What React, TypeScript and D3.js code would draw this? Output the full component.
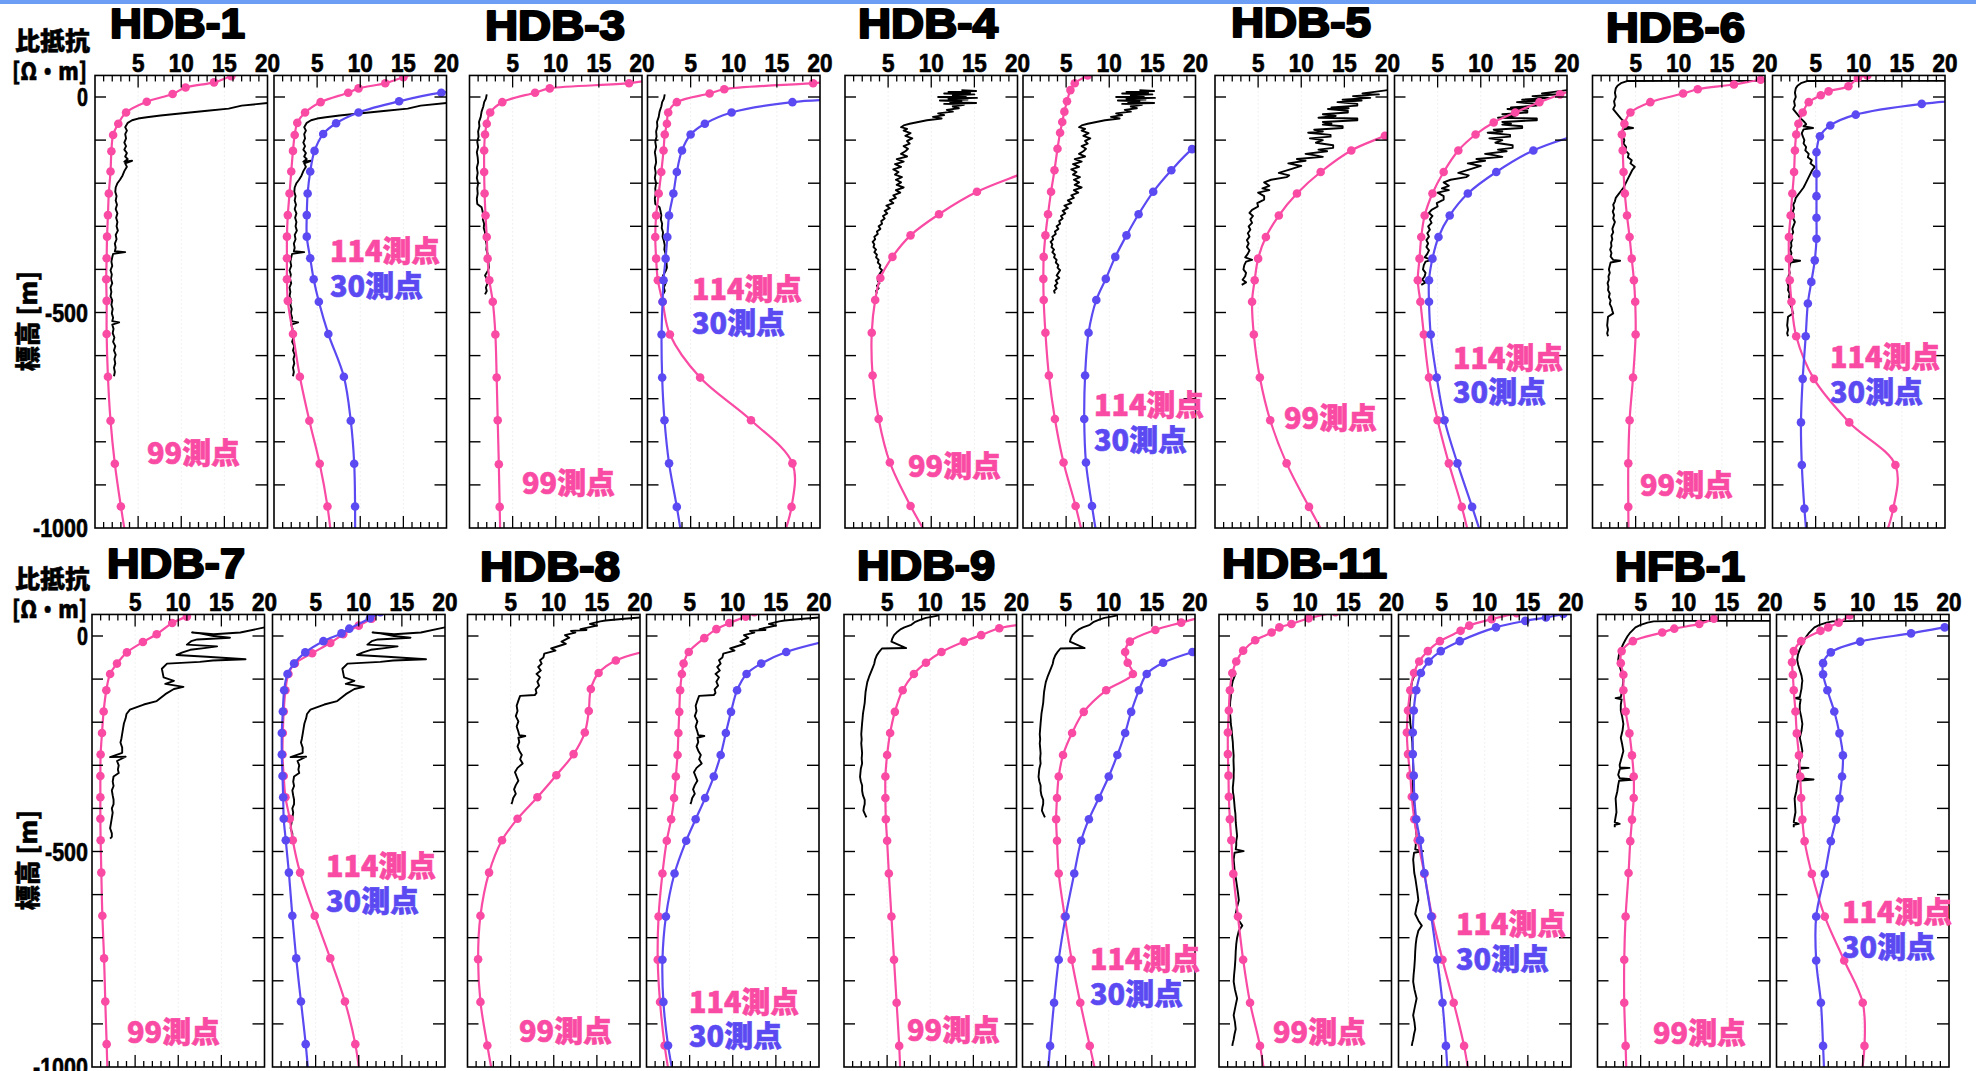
import React, { useEffect } from 'react';
import * as d3 from 'd3';

type Pt = [number, number]; // [resistivity Ω·m, elevation m]

// ---------------- DATA ----------------
const HOLE_NAMES = ['HDB-1', 'HDB-3', 'HDB-4', 'HDB-5', 'HDB-6', 'HDB-7', 'HDB-8', 'HDB-9', 'HDB-11', 'HFB-1'];
const X_TICK_LABELS = ['5', '10', '15', '20'];
const Y_TICK_LABELS = [0, -500, -1000];
const LABEL_99 = '99測点';
const LABEL_114 = '114測点';
const LABEL_30 = '30測点';

// HDB-1
const HDB1_LOG: Pt[] = [[25,-6],[20,-14],[17,-20],[15.5,-27],[13,-32],[11,-36],[9,-40],[7.6,-43],[6,-47],[5,-50],[4.3,-54],[3.8,-60],[3.5,-70],[3.7,-78],[3.5,-86],[3.6,-96],[3.4,-106],[3.6,-114],[3.4,-122],[3.7,-130],[3.5,-138],[3.8,-144],[3.4,-150],[4.3,-148],[3.5,-154],[3.7,-162],[3.4,-172],[3.2,-182],[2.9,-192],[2.6,-200],[2.4,-210],[2.35,-220],[2.5,-230],[2.4,-240],[2.55,-250],[2.4,-260],[2.6,-270],[2.45,-280],[2.6,-290],[2.5,-300],[2.65,-310],[2.4,-320],[2.5,-330],[2.3,-340],[2.4,-350],[2.3,-358],[3.5,-360],[2.1,-364],[2.0,-372],[1.9,-382],[2.0,-392],[1.8,-402],[1.95,-412],[1.85,-422],[2.0,-432],[1.8,-442],[1.9,-452],[1.8,-462],[2.0,-472],[1.9,-482],[2.05,-492],[1.95,-502],[2.1,-512],[2.0,-520],[2.8,-523],[2.0,-528],[2.15,-538],[2.05,-548],[2.25,-558],[2.1,-568],[2.35,-578],[2.2,-588],[2.4,-598],[2.25,-608],[2.35,-618],[2.2,-628],[2.3,-638],[2.2,-648]];
const HDB1_P99: Pt[] = [[18.5,60],[15.8,48],[13.8,34],[10.5,22],[9.0,7],[6.0,-11],[3.6,-36],[2.7,-62],[2.1,-88],[1.9,-126],[1.8,-173],[1.6,-224],[1.5,-274],[1.4,-324],[1.35,-374],[1.3,-423],[1.35,-473],[1.35,-550],[1.5,-649],[1.8,-751],[2.3,-851],[3.0,-950],[3.8,-1050]];
const HDB1_P114: Pt[] = [[17,58],[15,46],[12.9,32],[9.8,20],[8.6,10],[5.4,-12],[3.6,-36],[2.7,-60],[2.4,-88],[2.2,-125],[2.0,-173],[1.8,-224],[1.6,-274],[1.5,-324],[1.5,-374],[1.5,-423],[1.6,-473],[2.2,-550],[3.0,-649],[4.1,-751],[5.3,-851],[6.2,-950],[6.8,-1050]];
const HDB1_B30: Pt[] = [[24,20],[19.4,10],[14.5,-10],[9.8,-36],[7.2,-61],[5.7,-86],[4.7,-125],[4.2,-173],[3.9,-224],[3.8,-274],[3.8,-324],[4.2,-374],[4.6,-423],[5.2,-475],[6.3,-550],[8.1,-649],[8.9,-751],[9.3,-851],[9.4,-950],[9.4,-1050]];

// HDB-3
const HDB3_LOG: Pt[] = [[2.0,6],[1.9,-4],[1.7,-12],[1.6,-22],[1.4,-34],[1.3,-46],[1.1,-58],[1.15,-68],[1.0,-80],[1.05,-92],[0.9,-104],[1.0,-116],[0.85,-128],[0.95,-140],[1.0,-152],[0.85,-164],[0.95,-176],[0.85,-188],[1.0,-200],[0.9,-212],[0.95,-224],[0.85,-236],[0.9,-248],[1.4,-256],[1.5,-264],[1.6,-274],[1.55,-284],[1.7,-294],[1.65,-304],[1.8,-314],[1.75,-324],[1.9,-334],[2.0,-344],[1.95,-354],[2.1,-364],[2.05,-374],[2.2,-384],[2.25,-396],[2.1,-404],[1.8,-414],[2.0,-422],[2.1,-432],[1.9,-442],[2.0,-450],[1.8,-458]];
const HDB3_P99: Pt[] = [[21,40],[18.5,32],[9.3,20],[7.6,10],[3.8,-12],[2.4,-36],[2.0,-62],[1.8,-87],[1.7,-124],[1.7,-174],[1.75,-224],[1.86,-275],[2.0,-325],[2.1,-375],[2.3,-425],[2.7,-475],[3.0,-551],[3.15,-651],[3.27,-750],[3.4,-852],[3.5,-951],[3.6,-1050]];
const HDB3_P114: Pt[] = [[21,36],[19.2,32],[8.9,18],[7.2,8],[3.4,-12],[2.4,-36],[2.25,-62],[2.0,-87],[1.86,-124],[1.6,-174],[1.3,-224],[1.0,-275],[0.9,-325],[1.0,-375],[1.2,-425],[1.75,-475],[2.6,-551],[6.1,-651],[12,-750],[16.8,-850],[16.7,-951],[15.2,-1050]];
const HDB3_B30: Pt[] = [[22,-6],[16.8,-12],[9.75,-36],[6.65,-62],[5.0,-87],[4.0,-124],[3.4,-174],[3.0,-224],[2.5,-275],[2.3,-325],[2.1,-375],[1.86,-425],[1.75,-475],[1.63,-551],[1.7,-651],[1.97,-750],[2.5,-850],[3.4,-951],[4.2,-1050]];

// HDB-4
const HDB4_LOG: Pt[] = [[13.5,16],[15.2,14],[12,12],[14.5,10],[11.5,8],[15,6],[12.5,4],[14,2],[10.8,0],[15.3,-2],[12,-4],[14.2,-6],[11,-8],[13.5,-10],[12.2,-12],[15.2,-14],[11.5,-16],[13.8,-18],[12.5,-22],[13.2,-26],[11.8,-30],[12.5,-34],[10.8,-38],[11.5,-42],[10.2,-46],[11.2,-50],[9.5,-54],[8.5,-58],[7.5,-62],[6.8,-66],[6.5,-70],[7.2,-74],[6.8,-78],[7.6,-84],[7.0,-90],[7.8,-96],[7.2,-102],[7.5,-108],[6.8,-114],[7.3,-120],[7.0,-126],[6.5,-132],[7.2,-138],[6.0,-144],[6.8,-150],[5.8,-156],[6.5,-162],[5.6,-168],[6.2,-174],[5.8,-180],[6.6,-186],[5.9,-192],[6.5,-198],[6.0,-204],[6.8,-210],[5.9,-216],[6.4,-222],[5.6,-228],[5.9,-234],[5.2,-240],[5.6,-246],[4.8,-252],[5.2,-258],[4.6,-264],[4.9,-270],[4.4,-276],[4.6,-282],[4.2,-288],[4.3,-294],[3.9,-300],[4.1,-306],[3.7,-312],[3.8,-318],[3.4,-324],[3.5,-330],[3.2,-336],[3.4,-342],[3.3,-348],[3.6,-354],[3.4,-360],[3.7,-366],[3.6,-372],[3.9,-378],[3.8,-384],[4.1,-390],[4.0,-396],[4.3,-402],[4.1,-408],[3.9,-414],[4.2,-420],[3.8,-426],[4.0,-432],[3.7,-438],[3.9,-444],[3.6,-450],[3.7,-456]];
const HDB4_P99: Pt[] = [[27,-120],[21.5,-170],[15.3,-220],[10.9,-272],[7.6,-321],[5.5,-371],[4.1,-420],[3.5,-471],[3.1,-547],[3.2,-646],[3.9,-747],[5.2,-848],[7.6,-949],[10.5,-1050]];
const HDB4_P114: Pt[] = [[8.5,66],[7.5,50],[6.0,32],[5.5,16],[5.1,-10],[4.8,-34],[4.55,-58],[4.3,-83],[4.0,-120],[3.65,-170],[3.25,-220],[2.9,-272],[2.6,-321],[2.4,-371],[2.36,-422],[2.4,-471],[2.6,-547],[3.0,-646],[3.7,-747],[4.7,-848],[6.1,-949],[7.3,-1050]];
const HDB4_B30: Pt[] = [[23,-75],[19.6,-121],[17.2,-170],[15.1,-220],[13.4,-272],[12.0,-321],[10.7,-371],[9.6,-422],[8.5,-471],[7.6,-547],[7.2,-646],[7.1,-747],[7.3,-848],[8.0,-949],[8.8,-1050]];

// HDB-5
const HDB5_LOG: Pt[] = [[22,18],[20,16],[18.5,12],[17.1,8],[19,6],[16,2],[18,-2],[14.8,-6],[17,-8],[14.2,-12],[16.5,-16],[16.5,-20],[13.5,-24],[15.5,-26],[13.1,-28],[15.4,-32],[15.4,-36],[12.5,-40],[14,-44],[12,-48],[16.5,-50],[16.5,-54],[12.5,-58],[13.5,-62],[12.5,-64],[14.8,-68],[14.8,-72],[11.5,-76],[12.5,-80],[10.8,-83],[13.4,-88],[13.4,-92],[11,-96],[12.5,-100],[11.7,-106],[13.7,-112],[13.7,-118],[12,-122],[13,-126],[10.5,-132],[11.5,-135],[12.5,-139],[9.5,-144],[10.5,-148],[8.5,-154],[10,-160],[9,-166],[7.4,-176],[8.6,-182],[8.3,-186],[6.5,-192],[5.7,-198],[6.3,-206],[5.5,-212],[6.3,-216],[5.0,-222],[5.7,-230],[5.7,-238],[4.9,-246],[5.0,-254],[4.3,-262],[4.0,-269],[4.4,-276],[4.1,-284],[4.3,-292],[3.9,-300],[4.1,-308],[3.8,-316],[4.0,-324],[3.7,-332],[3.9,-340],[3.7,-348],[4.0,-356],[3.8,-364],[3.5,-372],[4.3,-378],[3.6,-382],[3.4,-390],[3.3,-400],[3.6,-408],[3.5,-416],[3.2,-424],[3.6,-430],[3.1,-436]];
const HDB5_P99: Pt[] = [[23,-60],[19.7,-90],[15.8,-124],[12.25,-174],[9.5,-224],[7.4,-275],[5.9,-325],[5.0,-375],[4.6,-425],[4.3,-475],[4.5,-551],[5.2,-651],[6.4,-750],[8.3,-850],[10.9,-951],[13.6,-1050]];
const HDB5_P114: Pt[] = [[21,18],[19.2,6],[16.8,-12],[14,-36],[11.5,-59],[9.4,-87],[7.4,-124],[5.7,-174],[4.4,-224],[3.5,-275],[3.1,-325],[2.9,-375],[2.7,-425],[3.0,-475],[3.4,-551],[4.0,-651],[5.0,-750],[6.3,-850],[7.8,-951],[9.0,-1050]];
const HDB5_B30: Pt[] = [[22.5,-80],[16.1,-124],[11.8,-174],[8.5,-224],[6.4,-275],[5.1,-325],[4.4,-375],[4.0,-425],[4.0,-475],[4.2,-551],[4.9,-651],[5.8,-750],[7.3,-850],[9.0,-951],[10.6,-1050]];

// HDB-6
const HDB6_LOG: Pt[] = [[22,37],[20,37.5],[10,37.5],[4,37],[3.3,32],[2.9,26],[2.7,20],[2.6,10],[2.7,0],[2.5,-10],[2.6,-20],[2.4,-28],[2.8,-38],[3.3,-50],[3.7,-58],[3.9,-63],[3.6,-68],[4.7,-72],[3.6,-75],[3.4,-84],[3.5,-91],[3.7,-100],[3.6,-108],[3.9,-116],[3.8,-124],[4.2,-132],[4.1,-140],[4.55,-147],[4.4,-154],[4.9,-162],[4.6,-170],[4.4,-178],[4.2,-186],[4.0,-194],[3.8,-202],[3.6,-210],[3.3,-218],[3.0,-226],[2.7,-234],[2.6,-242],[2.4,-250],[2.5,-258],[2.35,-266],[2.5,-274],[2.4,-282],[2.6,-290],[2.45,-298],[2.3,-306],[2.4,-314],[2.2,-322],[2.3,-330],[2.15,-338],[2.2,-346],[2.05,-354],[2.2,-362],[2.1,-370],[2.4,-378],[3.2,-380],[2.1,-384],[2.0,-392],[1.9,-400],[2.0,-408],[1.85,-416],[1.9,-424],[1.75,-432],[1.85,-440],[1.8,-448],[2.0,-456],[1.9,-464],[2.1,-472],[2.0,-480],[2.2,-488],[2.3,-496],[2.4,-502],[1.8,-510],[1.75,-520],[1.7,-530],[1.8,-540],[1.7,-548],[1.8,-555]];
const HDB6_P99: Pt[] = [[23,48],[19.5,40],[16.4,29],[12.2,18],[10.5,8],[6.7,-12],[4.4,-36],[3.7,-62],[3.4,-87],[3.5,-124],[3.6,-174],[3.75,-224],[4.0,-275],[4.3,-325],[4.55,-375],[4.8,-425],[4.95,-475],[5.0,-551],[4.7,-651],[4.3,-750],[4.15,-850],[4.15,-951],[4.2,-1050]];
const HDB6_P114: Pt[] = [[11,50],[9.9,44],[8.8,25],[6.5,13],[5.6,4],[4.2,-12],[3.5,-36],[3.0,-62],[2.75,-87],[2.6,-124],[2.5,-174],[2.3,-224],[2.1,-275],[1.9,-325],[1.9,-375],[2.0,-425],[2.2,-475],[2.75,-555],[4.8,-654],[8.9,-755],[14.25,-854],[14.0,-955],[12.5,-1050]];
const HDB6_B30: Pt[] = [[24,-5],[17.3,-16],[9.65,-41],[6.7,-66],[5.5,-91],[5.1,-128],[5.1,-178],[5.1,-230],[5.1,-280],[5.1,-329],[4.9,-379],[4.5,-429],[4.1,-479],[3.85,-555],[3.5,-654],[3.3,-755],[3.4,-854],[3.7,-955],[4.1,-1050]];

// HDB-7
const HDB7_LOG: Pt[] = [[22,24],[20,20],[17.2,8],[14.1,4],[11.6,8],[12.5,6],[14.1,0],[16,-4],[12.2,-8],[11.5,-12],[11,-20],[14.5,-24],[13,-28],[11.4,-32],[10.5,-38],[9.8,-44],[13.3,-48],[17.8,-54],[14,-57],[12.5,-60],[8.7,-64],[8.1,-76],[8.2,-86],[8.3,-96],[9.5,-104],[8.5,-111],[10.6,-118],[9.5,-123],[8.5,-135],[7.5,-151],[6.0,-159],[4.4,-171],[4.0,-181],[3.9,-191],[3.7,-203],[3.6,-215],[3.5,-227],[3.4,-239],[3.3,-247],[3.5,-259],[3.5,-271],[2.1,-281],[3.9,-280],[2.9,-290],[3.1,-300],[3.0,-310],[3.1,-318],[2.5,-326],[2.4,-338],[2.5,-348],[2.3,-358],[2.4,-370],[2.5,-380],[2.5,-390],[2.3,-400],[2.4,-410],[2.3,-422],[2.2,-434],[2.1,-446],[2.3,-458],[2.3,-466],[2.1,-470]];
const HDB7_P99: Pt[] = [[11,45],[9.3,30],[7.5,4],[5.9,-14],[4.05,-38],[2.9,-64],[2.1,-88],[1.66,-126],[1.35,-175],[1.16,-225],[1.0,-275],[0.97,-325],[0.97,-374],[0.97,-424],[1.0,-474],[1.08,-549],[1.2,-649],[1.4,-748],[1.54,-848],[1.7,-947],[1.85,-1050]];
const HDB7_P114: Pt[] = [[11.5,40],[10,24],[8.2,4],[6.7,-16],[4.6,-40],[2.6,-64],[1.85,-88],[1.5,-126],[1.3,-175],[1.2,-225],[1.16,-275],[1.3,-325],[1.5,-374],[2.0,-424],[2.35,-474],[3.2,-549],[4.9,-649],[6.7,-748],[8.4,-848],[9.6,-947],[10.3,-1050]];
const HDB7_B30: Pt[] = [[12.5,55],[11.3,41],[8.9,17],[8.0,6],[5.9,-12],[3.8,-38],[2.5,-64],[1.74,-88],[1.35,-126],[1.2,-175],[1.08,-225],[1.08,-275],[1.16,-325],[1.24,-374],[1.3,-424],[1.54,-474],[1.9,-549],[2.3,-649],[2.75,-748],[3.3,-848],[3.85,-947],[4.3,-1050]];

// HDB-8
const HDB8_LOG: Pt[] = [[22,44],[20,43],[18.2,40],[16,36],[15.4,34],[14.2,28],[15,24],[13.1,16],[13.8,14],[12,12],[12.5,8],[11.3,2],[11.8,-4],[10.9,-13],[11.4,-18],[9.7,-29],[10.2,-34],[8.9,-41],[8.8,-50],[8.4,-56],[8.6,-64],[8.2,-72],[8.5,-80],[8.0,-88],[8.4,-96],[8.1,-106],[8.3,-115],[7.9,-124],[8.0,-132],[7.8,-137],[6.1,-139],[5.9,-150],[5.7,-162],[5.8,-174],[5.6,-186],[5.9,-198],[5.7,-210],[5.9,-222],[6.0,-230],[6.7,-232],[5.9,-236],[6.0,-246],[5.8,-256],[6.0,-266],[6.3,-276],[6.1,-286],[6.4,-296],[5.8,-306],[5.5,-316],[5.7,-326],[5.9,-336],[5.6,-346],[5.4,-356],[5.6,-366],[5.3,-376],[5.2,-384],[5.1,-390]];
const HDB8_P99: Pt[] = [[23,-25],[17.2,-57],[15.2,-86],[14.3,-123],[14.06,-174],[13.6,-224],[12.3,-274],[10.3,-323],[8.1,-374],[5.8,-424],[4.0,-474],[2.5,-549],[1.5,-649],[1.23,-750],[1.5,-849],[2.3,-950],[3.2,-1050]];
const HDB8_P114: Pt[] = [[12.5,55],[11.5,45],[9.6,30],[8.1,16],[6.7,-5],[4.9,-37],[4.3,-64],[4.1,-88],[3.9,-126],[3.8,-176],[3.7,-225],[3.6,-276],[3.4,-326],[3.2,-376],[2.86,-425],[2.35,-475],[1.85,-551],[1.4,-651],[1.3,-751],[1.57,-849],[2.1,-950],[2.9,-1050]];
const HDB8_B30: Pt[] = [[23,-2],[16.2,-37],[13.3,-64],[11.6,-88],[10.5,-126],[9.8,-176],[9.2,-225],[8.6,-276],[7.8,-326],[6.8,-376],[5.7,-425],[4.6,-475],[3.25,-551],[2.25,-651],[1.85,-751],[1.96,-849],[2.5,-950],[3.4,-1050]];

// HDB-9
const HDB9_LOG: Pt[] = [[11,48],[10.3,45],[9.5,42],[8.9,38],[8.2,32],[7.8,26],[7.0,20],[6.6,16],[6.2,10],[5.8,2],[5.6,-6],[5.5,-13],[7.2,-28],[4.4,-29],[4.1,-36],[3.8,-45],[3.6,-55],[3.5,-65],[3.3,-75],[3.1,-85],[2.9,-95],[2.7,-107],[2.6,-118],[2.5,-130],[2.45,-142],[2.4,-155],[2.3,-168],[2.2,-180],[2.15,-192],[2.1,-202],[2.05,-215],[2.0,-228],[2.05,-240],[2.0,-249],[2.05,-260],[2.1,-272],[2.05,-284],[2.1,-296],[1.95,-308],[1.9,-318],[1.86,-327],[1.95,-337],[2.1,-347],[2.1,-359],[2.2,-370],[2.4,-380],[2.4,-390],[2.3,-398],[2.25,-405],[2.4,-412],[2.6,-421]];
const HDB9_P99: Pt[] = [[22,30],[18,18],[15.9,2],[13.9,-13],[11.3,-37],[9.5,-62],[8.1,-88],[6.8,-126],[5.9,-176],[5.35,-225],[5.0,-276],[4.8,-326],[4.8,-376],[4.85,-425],[5.0,-475],[5.2,-551],[5.5,-651],[5.8,-751],[6.1,-851],[6.4,-951],[6.6,-1050]];
const HDB9_P114: Pt[] = [[21.5,48],[18.4,31],[15.4,14],[12.45,-13],[11.9,-37],[12.2,-62],[12.8,-88],[9.7,-126],[7.1,-176],[5.75,-225],[4.7,-276],[4.2,-326],[4.0,-376],[3.9,-425],[4.0,-475],[4.2,-551],[4.9,-651],[5.7,-751],[6.7,-851],[7.8,-951],[8.9,-1050]];
const HDB9_B30: Pt[] = [[23,-15],[19.7,-37],[16.3,-62],[14.4,-88],[13.5,-126],[12.6,-176],[11.9,-225],[11,-276],[10,-326],[8.85,-376],[7.7,-425],[6.8,-475],[6.0,-551],[5.0,-651],[4.2,-751],[3.66,-851],[3.2,-951],[2.8,-1050]];

// HDB-11
const HDB11_LOG: Pt[] = [[1.94,-86],[1.8,-94],[1.6,-104],[1.54,-110],[1.45,-120],[1.4,-132],[1.37,-142],[1.3,-152],[1.28,-162],[1.26,-173],[1.3,-184],[1.35,-194],[1.37,-204],[1.45,-214],[1.5,-226],[1.54,-236],[1.6,-246],[1.62,-256],[1.66,-267],[1.7,-278],[1.68,-288],[1.7,-299],[1.72,-310],[1.7,-320],[1.7,-330],[1.65,-342],[1.6,-352],[1.62,-362],[1.7,-372],[1.75,-382],[1.83,-401],[1.9,-412],[1.94,-432],[2.0,-444],[2.1,-464],[2.0,-476],[2.0,-486],[1.94,-495],[2.86,-499],[1.8,-503],[1.7,-519],[1.75,-530],[1.83,-550],[1.95,-562],[2.1,-582],[2.2,-596],[2.3,-613],[2.1,-628],[1.94,-645],[2.3,-660],[2.7,-672],[2.3,-684],[2.1,-700],[2.0,-715],[1.94,-731],[1.9,-750],[1.83,-770],[1.75,-786],[1.7,-802],[1.85,-820],[2.1,-841],[1.9,-860],[1.7,-880],[1.85,-896],[1.94,-912],[1.8,-924],[1.7,-936],[1.6,-944],[1.54,-951]];
const HDB11_P99: Pt[] = [[13.5,55],[10.4,41],[8.4,28],[7.0,20],[6.1,8],[4.2,-10],[2.8,-34],[2.0,-59],[1.54,-86],[1.26,-126],[1.14,-173],[1.03,-224],[1.03,-274],[1.1,-324],[1.14,-373],[1.26,-425],[1.43,-474],[1.66,-552],[2.2,-651],[2.8,-751],[3.6,-851],[4.75,-951],[5.5,-1050]];
const HDB11_P114: Pt[] = [[13.7,53],[10.8,39],[8.2,24],[7.2,12],[4.8,-12],[3.4,-35],[2.4,-59],[1.8,-86],[1.37,-126],[1.1,-173],[0.97,-224],[1.1,-274],[1.37,-324],[1.54,-373],[1.83,-425],[2.23,-474],[3.0,-552],[3.9,-651],[5.1,-751],[6.4,-851],[7.6,-951],[8.4,-1050]];
const HDB11_B30: Pt[] = [[20.5,57],[19.1,51],[17.1,43],[14.7,35],[11.3,20],[7.1,-12],[4.9,-35],[3.5,-59],[2.6,-86],[2.06,-126],[1.77,-173],[1.66,-224],[1.66,-274],[1.77,-324],[1.83,-373],[2.06,-425],[2.5,-474],[3.0,-550],[3.8,-651],[4.5,-751],[5.1,-851],[5.5,-951],[5.8,-1050]];

// HFB-1
const HFB1_LOG: Pt[] = [[22,35],[20,35],[10,35],[6.5,34],[5.8,31],[5.0,26],[4.4,20],[3.8,8],[3.5,0],[3.26,-8],[3.0,-18],[2.7,-31],[2.5,-42],[2.4,-55],[2.5,-66],[2.7,-79],[2.9,-92],[3.0,-104],[2.95,-110],[2.9,-122],[2.8,-132],[2.7,-142],[2.1,-144],[2.8,-147],[2.7,-160],[2.7,-173],[2.85,-186],[3.0,-204],[2.9,-220],[2.7,-236],[2.85,-250],[3.0,-267],[2.8,-282],[2.57,-299],[2.6,-305],[3.7,-306],[2.6,-308],[2.4,-322],[2.57,-330],[4.3,-333],[2.5,-336],[2.4,-346],[2.3,-360],[2.1,-377],[2.15,-392],[2.2,-409],[2.1,-420],[2.0,-432],[2.57,-436],[2.0,-438],[2.0,-444]];
const HFB1_P99: Pt[] = [[13.5,40],[11.8,28],[8.9,17],[7.5,8],[4.1,-12],[2.8,-35],[2.7,-63],[3.0,-90],[3.0,-126],[3.26,-175],[3.7,-226],[4.0,-277],[4.2,-326],[4.2,-376],[4.0,-426],[3.8,-476],[3.6,-550],[3.26,-651],[3.1,-751],[3.1,-851],[3.26,-951],[3.4,-1050]];
const HFB1_P114: Pt[] = [[8.5,48],[7.2,31],[6.0,20],[5.1,12],[2.86,-12],[2.0,-35],[1.8,-61],[1.9,-90],[2.0,-126],[2.2,-175],[2.35,-226],[2.6,-277],[2.75,-326],[2.86,-376],[3.0,-426],[3.26,-476],[4.1,-552],[5.6,-651],[7.85,-753],[10.0,-851],[10.2,-951],[9.6,-1050]];
const HFB1_B30: Pt[] = [[22,25],[19.5,20],[15.6,6],[9.7,-13],[6.3,-38],[5.4,-63],[5.4,-89],[5.9,-126],[6.7,-175],[7.3,-226],[7.7,-277],[7.6,-326],[7.3,-377],[6.9,-426],[6.3,-476],[5.6,-552],[4.6,-651],[4.6,-753],[5.15,-851],[5.4,-951],[5.6,-1050]];

const LOGS = [HDB1_LOG, HDB3_LOG, HDB4_LOG, HDB5_LOG, HDB6_LOG, HDB7_LOG, HDB8_LOG, HDB9_LOG, HDB11_LOG, HFB1_LOG];
const P99 = [HDB1_P99, HDB3_P99, HDB4_P99, HDB5_P99, HDB6_P99, HDB7_P99, HDB8_P99, HDB9_P99, HDB11_P99, HFB1_P99];
const P114 = [HDB1_P114, HDB3_P114, HDB4_P114, HDB5_P114, HDB6_P114, HDB7_P114, HDB8_P114, HDB9_P114, HDB11_P114, HFB1_P114];
const B30 = [HDB1_B30, HDB3_B30, HDB4_B30, HDB5_B30, HDB6_B30, HDB7_B30, HDB8_B30, HDB9_B30, HDB11_B30, HFB1_B30];

// ---------------- LAYOUT ----------------
const W = 1976, H = 1071;
const PANEL_W = 172.5;
const ROW_Y0 = [97, 636];
const ROW_YMIN = [528, 1067];
const PINK = '#f94aa4';
const BLUE = '#5b4af2';

const LAYOUT = [
  { row: 0, p1: 95, p2: 274, tx: 110, ty: 38, tw: 135, l99: [147, 464], l114: [330, 262], l30: [330, 297] },
  { row: 0, p1: 469.5, p2: 647.5, tx: 485, ty: 40, tw: 140, l99: [522, 494], l114: [692, 300], l30: [692, 334] },
  { row: 0, p1: 845, p2: 1023, tx: 858, ty: 38, tw: 140, l99: [908, 477], l114: [1094, 416], l30: [1094, 451] },
  { row: 0, p1: 1215, p2: 1394.5, tx: 1231, ty: 37, tw: 140, l99: [1284, 429], l114: [1453, 369], l30: [1453, 403] },
  { row: 0, p1: 1592.5, p2: 1772.5, tx: 1606, ty: 42, tw: 139, l99: [1640, 496], l114: [1830, 368], l30: [1830, 403] },
  { row: 1, p1: 92, p2: 272.5, tx: 107, ty: 578, tw: 138, l99: [127, 1043], l114: [326, 877], l30: [326, 912] },
  { row: 1, p1: 467.5, p2: 646.5, tx: 480, ty: 581, tw: 140, l99: [519, 1042], l114: [689, 1013], l30: [689, 1047] },
  { row: 1, p1: 844, p2: 1022.5, tx: 857, ty: 580, tw: 138, l99: [907, 1041], l114: [1090, 970], l30: [1090, 1005] },
  { row: 1, p1: 1219, p2: 1398.5, tx: 1222, ty: 578, tw: 165, l99: [1273, 1043], l114: [1456, 935], l30: [1456, 970] },
  { row: 1, p1: 1597.5, p2: 1776.5, tx: 1615, ty: 581, tw: 130, l99: [1653, 1044], l114: [1842, 923], l30: [1842, 958] },
];

const CJK = "'Noto Sans CJK JP', 'Noto Sans CJK SC', sans-serif";
const LAT = "'Liberation Sans', Arial, sans-serif";

type YS = d3.ScaleLinear<number, number>;

function Panel({ id, left, ys, log, series }: { id: string; left: number; ys: YS; log: Pt[]; series: { data: Pt[]; color: string }[] }) {
  const x = d3.scaleLinear().domain([0, 20]).range([left, left + PANEL_W]);
  const top = ys(50);
  const bottom = ys(-1000);
  const right = left + PANEL_W;
  const logLine = d3.line<Pt>().x(d => x(d[0])).y(d => ys(d[1]));
  const smooth = d3.line<Pt>().x(d => x(d[0])).y(d => ys(d[1])).curve(d3.curveCatmullRom.alpha(0.5));
  const minor = d3.range(1, 20);
  const yt = d3.range(0, -1000, -100);
  return (
    <g>
      <defs>
        <clipPath id={id}>
          <rect x={left} y={top} width={PANEL_W} height={bottom - top} />
        </clipPath>
      </defs>
      {[5, 10, 15].map(v => (
        <line key={'g' + v} x1={x(v)} x2={x(v)} y1={top} y2={bottom} stroke="#e2e2e2" strokeWidth={1} strokeDasharray="1 3" />
      ))}
      <g clipPath={`url(#${id})`}>
        <path d={logLine(log) || ''} fill="none" stroke="#000" strokeWidth={1.9} strokeLinejoin="round" />
        {series.map((s, i) => (
          <g key={i}>
            <path d={smooth(s.data) || ''} fill="none" stroke={s.color} strokeWidth={2.2} />
            {s.data.map((d, j) => (
              <circle key={j} cx={x(d[0])} cy={ys(d[1])} r={4.3} fill={s.color} />
            ))}
          </g>
        ))}
      </g>
      {minor.map(v => {
        const len = v % 5 === 0 ? 12 : 6;
        return (
          <g key={'t' + v}>
            <line x1={x(v)} x2={x(v)} y1={top} y2={top + len} stroke="#000" strokeWidth={1.3} />
            <line x1={x(v)} x2={x(v)} y1={bottom} y2={bottom - len} stroke="#000" strokeWidth={1.3} />
          </g>
        );
      })}
      {yt.map(e => (
        <g key={'y' + e}>
          <line x1={left} x2={left + 11} y1={ys(e)} y2={ys(e)} stroke="#000" strokeWidth={1.4} />
          <line x1={right - 12} x2={right} y1={ys(e)} y2={ys(e)} stroke="#000" strokeWidth={1.4} />
        </g>
      ))}
      <rect x={left} y={top} width={PANEL_W} height={bottom - top} fill="none" stroke="#000" strokeWidth={1.6} />
      {X_TICK_LABELS.map(t => (
        <text key={'xl' + t} x={x(+t)} y={top - 3} textAnchor="middle" fontFamily={LAT} fontWeight={700} fontSize={25}
          stroke="#000" strokeWidth={0.7} fill="#000" textLength={t.length > 1 ? 25 : 12.5} lengthAdjust="spacingAndGlyphs">{t}</text>
      ))}
    </g>
  );
}

export default function App() {
  useEffect(() => {
    document.body.style.margin = '0';
    document.body.style.overflow = 'hidden';
  }, []);

  const rowScales = ROW_Y0.map((y0, i) => d3.scaleLinear().domain([0, -1000]).range([y0, ROW_YMIN[i]]));

  return (
    <svg width={W} height={H} viewBox={`0 0 ${W} ${H}`} style={{ position: 'absolute', left: 0, top: 0, background: '#fff' }}>
      <rect x={0} y={0} width={W} height={H} fill="#fff" />
      <rect x={0} y={0} width={W} height={4} fill="#6d9ef6" />

      {rowScales.map((ys, r) => (
        <g key={'axis' + r}>
          <text x={15} y={r === 0 ? 50 : 588} fontFamily={CJK} fontWeight={900} fontSize={25} stroke="#000" strokeWidth={0.5} fill="#000">比抵抗</text>
          <text x={12} y={r === 0 ? 80 : 618} fontFamily={CJK} fontWeight={900} fontSize={24} stroke="#000" strokeWidth={0.5} fill="#000" textLength={75} lengthAdjust="spacingAndGlyphs">[Ω・m]</text>
          {Y_TICK_LABELS.map(v => (
            <text key={v} x={88} y={ys(v)} dy="0.36em" textAnchor="end" fontFamily={LAT} fontWeight={700} fontSize={25}
              stroke="#000" strokeWidth={0.6}
              textLength={v === 0 ? 11 : v === -500 ? 43 : 55} lengthAdjust="spacingAndGlyphs" fill="#000">{v}</text>
          ))}
          <text transform={`translate(37, ${ys(-520)}) rotate(-90)`} textAnchor="middle" fontFamily={CJK} fontWeight={900} fontSize={25}
            stroke="#000" strokeWidth={0.5} fill="#000">標高 [m]</text>
        </g>
      ))}

      {HOLE_NAMES.map((name, i) => {
        const L = LAYOUT[i];
        const ys = rowScales[L.row];
        return (
          <g key={name}>
            <text x={L.tx} y={L.ty} fontFamily={LAT} fontWeight={700} fontSize={42} fill="#000" stroke="#000" strokeWidth={2.2}
              strokeLinejoin="round" textLength={L.tw} lengthAdjust="spacingAndGlyphs">{name}</text>
            <Panel id={`c${i}a`} left={L.p1} ys={ys} log={LOGS[i]} series={[{ data: P99[i], color: PINK }]} />
            <Panel id={`c${i}b`} left={L.p2} ys={ys} log={LOGS[i]} series={[{ data: P114[i], color: PINK }, { data: B30[i], color: BLUE }]} />
            <text x={L.l99[0]} y={L.l99[1]} fontFamily={CJK} fontWeight={900} fontSize={29} fill={PINK} stroke={PINK} strokeWidth={0.6}
              textLength={93} lengthAdjust="spacingAndGlyphs">{LABEL_99}</text>
            <text x={L.l114[0]} y={L.l114[1]} fontFamily={CJK} fontWeight={900} fontSize={29} fill={PINK} stroke={PINK} strokeWidth={0.6}
              textLength={110} lengthAdjust="spacingAndGlyphs">{LABEL_114}</text>
            <text x={L.l30[0]} y={L.l30[1]} fontFamily={CJK} fontWeight={900} fontSize={29} fill={BLUE} stroke={BLUE} strokeWidth={0.6}
              textLength={93} lengthAdjust="spacingAndGlyphs">{LABEL_30}</text>
          </g>
        );
      })}
    </svg>
  );
}
